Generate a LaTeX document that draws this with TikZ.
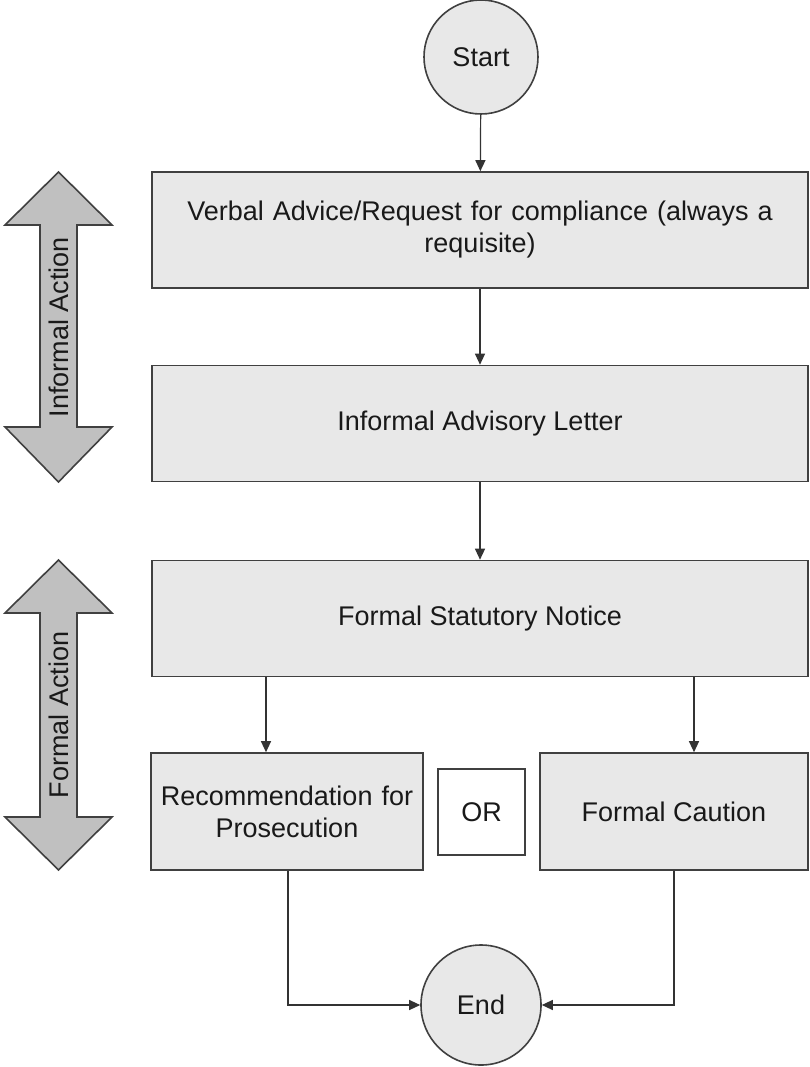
\documentclass[tikz,border=0pt]{standalone}
\usepackage{fontspec}
\setmainfont{Liberation Sans}
\usetikzlibrary{arrows.meta}
\definecolor{boxfill}{HTML}{E8E8E8}
\definecolor{arrfill}{HTML}{C0C0C0}
\definecolor{edge}{HTML}{404040}
\begin{document}
\begin{tikzpicture}[x=1pt,y=-1pt,
  every node/.style={font=\fontsize{27}{32}\selectfont, text=black!90},
  proc/.style={draw=edge, line width=1.6pt, fill=boxfill, align=center, inner sep=0pt},
  term/.style={draw=edge, line width=1.6pt, fill=boxfill, circle, inner sep=0pt},
  conn/.style={draw=black!80, line width=1.2pt, -{Triangle[length=11pt,width=10pt]}},
  band/.style={draw=edge, line width=1.6pt, fill=arrfill}]
\useasboundingbox (0,0) rectangle (810,1067);
% terminals
\node[term, minimum size=114pt] (start) at (481,57) {Start};
\node[term, minimum size=120pt] (end) at (481,1005) {End};
% process boxes
\node[proc, minimum width=656pt, minimum height=116pt, text width=640pt] (b1) at (480,230) {Verbal Advice/Request for compliance (always a\\requisite)};
\node[proc, minimum width=656pt, minimum height=116pt] (b2) at (480,423.5) {Informal Advisory Letter};
\node[proc, minimum width=656pt, minimum height=116pt] (b3) at (480,618.5) {Formal Statutory Notice};
\node[proc, minimum width=272pt, minimum height=117pt, text width=268pt] (rec) at (287,811.5) {Recommendation for\\Prosecution};
\node[proc, fill=white, minimum width=87pt, minimum height=86pt] (or) at (481.5,812) {OR};
\node[proc, minimum width=268pt, minimum height=117pt] (fc) at (674,811.5) {Formal Caution};
% connectors
\draw[conn] (start) -- (b1);
\draw[conn] (b1) -- (b2);
\draw[conn] (b2) -- (b3);
\draw[conn] (b3.south -| 266,0) -- (rec.north -| 266,0);
\draw[conn] (b3.south -| 694,0) -- (fc.north -| 694,0);
\draw[conn] (rec.south -| 288,0) |- (end.west);
\draw[conn] (fc.south -| 674,0) |- (end.east);
% side bands
\draw[band] (58.5,172) -- (112,225) -- (77,225) -- (77,427) -- (112,427) -- (58.5,482)
  -- (5,427) -- (40,427) -- (40,225) -- (5,225) -- cycle;
\node[rotate=90] (inf) at (58.5,327) {Informal Action};
\draw[band] (58.5,560) -- (112,613) -- (77,613) -- (77,817) -- (112,817) -- (58.5,870)
  -- (5,817) -- (40,817) -- (40,613) -- (5,613) -- cycle;
\node[rotate=90] (frm) at (58.5,715) {Formal Action};
\end{tikzpicture}
\end{document}
